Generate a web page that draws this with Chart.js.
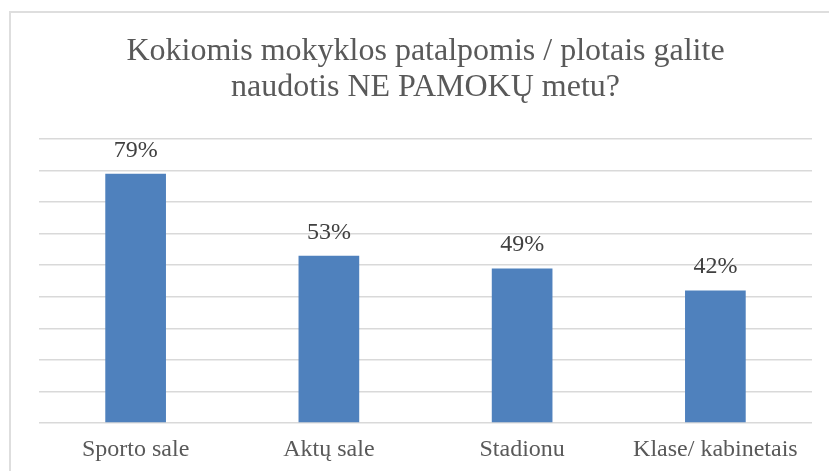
<!DOCTYPE html>
<html>
<head>
<meta charset="utf-8">
<script src="https://cdn.jsdelivr.net/npm/chart.js@4"></script>
<style>
  body { margin: 0; background: #fff; overflow: hidden; }
  #wrap { position: relative; width: 829px; height: 471px; }
  #frame { position: absolute; left: 9px; top: 11px; width: 900px; height: 600px; border: 2px solid #dedede; }
  canvas { position: absolute; left: 0; top: 0; }
</style>
</head>
<body>
<div id="wrap">
  <div id="frame"></div>
  <canvas id="chart"></canvas>
</div>
<script>
const categories = ['Sporto sale', 'Aktų sale', 'Stadionu', 'Klase/ kabinetais'];
const shares = [79, 53, 49, 42];
const titleLines = ['Kokiomis mokyklos patalpomis / plotais galite', 'naudotis NE PAMOKŲ metu?'];

// draws "79%" etc. above each bar
const valueLabels = {
  id: 'valueLabels',
  afterDatasetsDraw(chart) {
    const ctx = chart.ctx;
    const meta = chart.getDatasetMeta(0);
    ctx.save();
    ctx.font = '24px "Liberation Serif"';
    ctx.fillStyle = '#404040';
    ctx.textAlign = 'center';
    ctx.textBaseline = 'alphabetic';
    meta.data.forEach((bar, i) => {
      ctx.fillText(shares[i] + '%', bar.x, bar.y - 17);
    });
    ctx.restore();
  }
};

const ctx = document.getElementById('chart').getContext('2d');
new Chart(ctx, {
  type: 'bar',
  data: {
    labels: categories,
    datasets: [{
      data: shares,
      backgroundColor: '#4f81bd',
      barPercentage: 0.314,
      categoryPercentage: 1
    }]
  },
  options: {
    responsive: true,
    maintainAspectRatio: false,
    animation: false,
    layout: {
      padding: { left: 39, right: 17, top: 0, bottom: 0 }
    },
    plugins: {
      legend: { display: false },
      tooltip: { enabled: false },
      title: {
        display: true,
        text: titleLines,
        color: '#595959',
        font: { family: 'Liberation Serif', size: 32, weight: 'normal', lineHeight: 1.125 },
        padding: { top: 34, bottom: 33 }
      }
    },
    scales: {
      x: {
        grid: { display: false, drawTicks: false },
        border: { display: false },
        ticks: {
          color: '#595959',
          padding: 12.6,
          maxRotation: 0,
          autoSkip: false,
          font: { family: 'Liberation Serif', size: 24 }
        },
        afterFit(scale) { scale.height = 48; }
      },
      y: {
        min: 0,
        max: 90,
        ticks: { display: false, stepSize: 10 },
        grid: { color: '#d9d9d9', lineWidth: 1.5, drawTicks: false },
        border: { display: false }
      }
    }
  },
  plugins: [valueLabels]
});
</script>
</body>
</html>
